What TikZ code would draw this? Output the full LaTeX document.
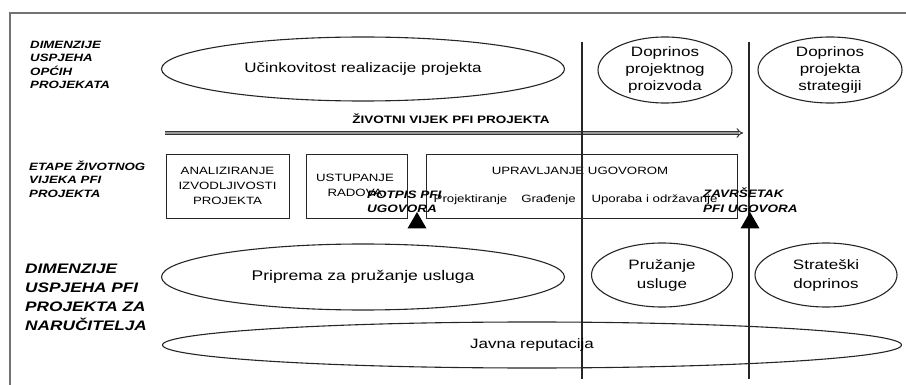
\documentclass[tikz,border=0pt]{standalone}
\usepackage{fontspec}
\setmainfont{Liberation Sans}[FakeStretch=1.25]
\usetikzlibrary{shapes.geometric,arrows.meta}
\begin{document}
\begin{tikzpicture}[x=1pt,y=-1pt,
  ell/.style={draw=black!85, ellipse, inner sep=0pt, line width=1.1pt, align=center},
  bigtext/.style={font=\fontsize{13.6}{17}\selectfont},
  stagebox/.style={draw=black!85, line width=1.1pt, inner sep=0pt, anchor=north west},
  boxtext/.style={font=\fontsize{10.6}{15}\selectfont, align=center, inner sep=0pt},
  lbl/.style={font=\fontsize{10.6}{13.3}\selectfont\bfseries\itshape, align=left, anchor=north west, inner sep=0pt},
  biglbl/.style={font=\fontsize{13.8}{19}\selectfont\bfseries\itshape, align=left, anchor=north west, inner sep=0pt},
  milestone/.style={font=\fontsize{10.8}{14.5}\selectfont\bfseries\itshape, align=left, inner sep=0pt, anchor=west},
  tri/.style={regular polygon, regular polygon sides=3, fill=black, inner sep=0pt, minimum size=22pt},
  vline/.style={draw=black!85, line width=1.1pt},
  frame/.style={draw=black!55, line width=2.2pt}
]
\useasboundingbox (0,0) rectangle (906,385);
% frame
\coordinate (fTL) at (10,13);
\coordinate (fTR) at (906,13);
\coordinate (fBL) at (10,385);
\draw[frame] (fBL) -- (fTL) -- (fTR);

% left labels
\node[lbl] (l1) at (30,41) {DIMENZIJE\\USPJEHA\\OPĆIH\\PROJEKATA};
\node[lbl] (l2) at (29,161) {ETAPE ŽIVOTNOG\\VIJEKA PFI\\PROJEKTA};
\node[biglbl] (l3) at (25,264) {DIMENZIJE\\USPJEHA PFI\\PROJEKTA ZA\\NARUČITELJA};

% top ellipses
\node[ell, bigtext, minimum width=403pt, minimum height=64pt] (e1) at (363,69) {Učinkovitost realizacije projekta};
\node[ell, bigtext, minimum width=134pt, minimum height=58pt] (e2) at (665,70) {Doprinos\\projektnog\\proizvoda};
\node[ell, bigtext, minimum width=144pt, minimum height=58pt] (e3) at (830,70) {Doprinos\\projekta\\strategiji};

% life cycle arrow
\node[font=\fontsize{10.8}{12}\selectfont\bfseries, inner sep=0pt] (lc) at (451,119) {ŽIVOTNI VIJEK PFI PROJEKTA};
\coordinate (aS) at (165,133);
\coordinate (aE) at (743,133);
\draw[draw=black!80, line width=1pt, double=black!40, double distance=2.2pt, -{Implies}] (aS) -- (aE);

% stage boxes
\node[stagebox, minimum width=123pt, minimum height=64pt] (b1) at (166,154) {};
\node[boxtext] (b1t) at (227.5,186) {ANALIZIRANJE\\IZVODLJIVOSTI\\PROJEKTA};
\node[stagebox, minimum width=101pt, minimum height=64pt] (b2) at (306,154) {};
\node[boxtext] (b2t) at (355,185) {USTUPANJE\\RADOVA};
\node[stagebox, minimum width=311pt, minimum height=64pt] (b3) at (426,154) {};
\node[boxtext] (b3t) at (580,171) {UPRAVLJANJE UGOVOROM};
\node[boxtext] (s1) at (470.5,200) {Projektiranje};
\node[boxtext] (s2) at (548.5,200) {Građenje};
\node[boxtext] (s3) at (654.5,200) {Uporaba i održavanje};

% vertical lines
\coordinate (v1t) at (582,42); \coordinate (v1b) at (582,379);
\coordinate (v2t) at (749,42); \coordinate (v2b) at (749,379);
\draw[vline] (v1t) -- (v1b);
\draw[vline] (v2t) -- (v2b);

% milestones
\node[tri] (t1) at (417,223) {};
\node[tri] (t2) at (750,223) {};
\node[milestone] (m1) at (367,202) {POTPIS PFI\\UGOVORA};
\node[milestone] (m2) at (703,200) {ZAVRŠETAK\\PFI UGOVORA};

% bottom ellipses
\node[ell, font=\fontsize{14}{17}\selectfont, minimum width=403pt, minimum height=66pt] (e4) at (363,277) {Priprema za pružanje usluga};
\node[ell, bigtext, minimum width=141pt, minimum height=64pt, font=\fontsize{13.6}{19}\selectfont] (e5) at (662,275) {Pružanje\\usluge};
\node[ell, bigtext, minimum width=142pt, minimum height=64pt, font=\fontsize{13.6}{19}\selectfont] (e6) at (826,275) {Strateški\\doprinos};
\node[ell, bigtext, minimum width=739pt, minimum height=46pt] (e7) at (532,345) {Javna reputacija};
\end{tikzpicture}
\end{document}
